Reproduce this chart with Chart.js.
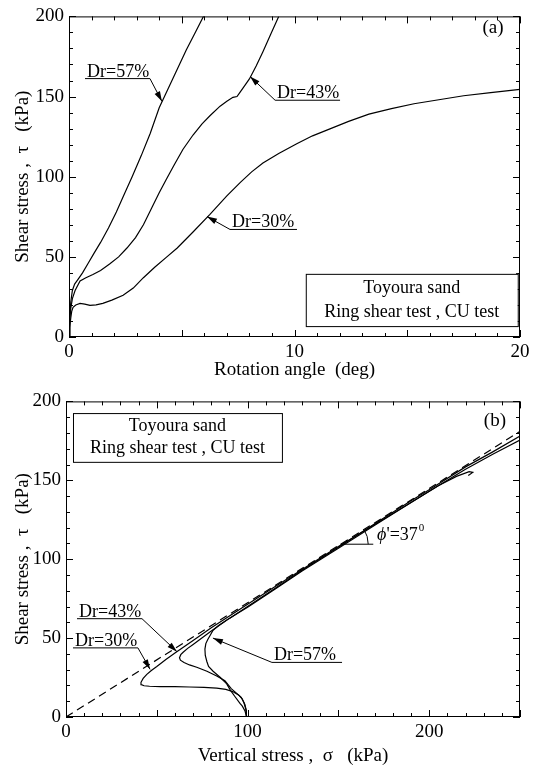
<!DOCTYPE html>
<html>
<head>
<meta charset="utf-8">
<script src="https://cdn.jsdelivr.net/npm/chart.js@4"></script>
<style>
  body { margin: 0; background: #fff; }
  .panel { position: absolute; left: 0; width: 542px; }
</style>
</head>
<body>
<div class="panel" style="top:0;height:385px;"><canvas id="chartA" width="542" height="385"></canvas></div>
<div class="panel" style="top:385px;height:386px;"><canvas id="chartB" width="542" height="386"></canvas></div>
<script>
const FONT = "'Liberation Serif', 'DejaVu Serif', serif";

// (a) shear stress vs rotation angle
const rotDr57 = [0, 0.03, 0.08, 0.15, 0.25, 0.4, 0.6, 0.85, 1.1, 1.4, 1.75, 2.1, 2.45, 2.8, 3.2, 3.6, 4.0, 4.4, 4.8, 5.2, 5.6, 6.0];
const tauDr57 = [0, 12, 22, 29, 33, 36, 40, 46, 52, 59, 68, 78, 89, 100, 113, 127, 143, 155, 167, 179, 190, 201];
const rotDr43 = [0, 0.03, 0.08, 0.15, 0.27, 0.49, 0.75, 1.06, 1.4, 1.8, 2.2, 2.57, 2.95, 3.3, 3.65, 4.0, 4.3, 4.65, 5.05, 5.5, 5.9, 6.25, 6.7, 7.0, 7.27, 7.45, 7.55, 7.8, 8.0, 8.3, 8.6, 8.95, 9.3];
const tauDr43 = [0, 10, 18, 24, 29, 35, 37, 39, 41.5, 45.5, 50, 55.5, 62, 70, 80, 90, 98, 107, 117, 126, 133, 138, 144, 147, 149.5, 150, 152, 157, 161, 169, 178, 189, 200];
const rotDr30 = [0, 0.03, 0.08, 0.12, 0.18, 0.3, 0.49, 0.7, 0.93, 1.2, 1.5, 1.9, 2.4, 2.85, 3.3, 3.8, 4.3, 4.8, 5.5, 6.25, 7.0, 7.6, 8.1, 8.6, 9.3, 10.1, 10.8, 11.6, 12.4, 13.3, 14.3, 15.3, 16.4, 17.5, 18.7, 20];
const tauDr30 = [0, 6, 12, 16, 18.5, 20, 21, 20.5, 19.7, 20, 21, 23, 26, 30.5, 37, 43.5, 49.5, 55.5, 65.5, 76.5, 88, 96.5, 103, 108.5, 114.5, 120.5, 125.5, 130, 134.5, 139, 142.5, 145.5, 148, 150.5, 152.5, 154.5];

// (b) stress paths: vertical stress vs shear stress
const sigDr30 = [99.5, 99.3, 98.5, 97, 95, 92, 88, 83, 76, 68, 60, 52, 46, 43, 41.5, 41.3, 42.5, 44.5, 47, 50, 55, 60, 70, 80, 90, 100, 115, 130, 150, 170, 190, 205, 215, 222, 224, 221.5];
const tauB30  = [0, 4, 8, 11.5, 14, 16, 17.5, 18.3, 18.8, 19, 19.2, 19.3, 19.5, 19.8, 20.5, 22, 24.5, 27, 29.5, 32, 36.5, 40.5, 48.5, 56.5, 64, 71.5, 82.5, 93.5, 108, 122, 136, 146.5, 152.5, 155.5, 155, 153];
const sigDr43 = [99.5, 99, 98, 96.5, 94, 91, 87.5, 83, 77.6, 72, 68, 65, 63, 62.5, 63.2, 64.5, 67, 70, 80, 90, 100, 115, 130, 150, 170, 190, 200, 220, 235, 250];
const tauB43  = [0, 5, 9, 12.5, 15, 18, 23, 26, 29, 31.5, 33, 34.5, 36, 37.5, 39.5, 41, 43.5, 46, 54.5, 62.5, 70, 81.5, 93, 107.5, 122.5, 137, 144, 158.5, 168, 178];
const sigDr57 = [99.5, 98.5, 97, 95.8, 93, 90.5, 88.5, 85, 81, 78.5, 77.6, 76.7, 76.5, 77, 78, 79.5, 81, 84, 88.5, 95, 100, 115, 130, 150, 170, 190, 200, 220, 235, 250];
const tauB57  = [0, 4, 7, 8.6, 13, 17, 21, 25, 29, 32, 35, 39, 43, 46.5, 49, 52, 55, 58, 61.5, 66, 69.5, 81, 92.5, 107, 121.5, 136, 143, 157, 166.5, 175.5];
const failSig = [0, 250];
const failTau = [0, 181];

function pts(xs, ys) { return xs.map((x, i) => ({ x: x, y: ys[i] })); }

function curve(label, xs, ys, dash) {
  return {
    label: label,
    data: pts(xs, ys),
    showLine: true,
    pointRadius: 0,
    borderColor: '#000',
    borderWidth: 1.2,
    borderDash: dash || [],
    fill: false,
    tension: 0
  };
}

function drawCallout(ctx, chart, a) {
  const sx = chart.scales.x, sy = chart.scales.y;
  const x1 = sx.getPixelForValue(a.u0), x2 = sx.getPixelForValue(a.u1), yu = sy.getPixelForValue(a.uy);
  const tx = sx.getPixelForValue(a.tip[0]), ty = sy.getPixelForValue(a.tip[1]);
  const fx = a.side === 'left' ? x1 : x2;
  ctx.beginPath();
  ctx.moveTo(x1, yu); ctx.lineTo(x2, yu);
  ctx.moveTo(fx, yu); ctx.lineTo(tx, ty);
  ctx.stroke();
  const ang = Math.atan2(ty - yu, tx - fx), L = 10, W = 3;
  ctx.beginPath();
  ctx.moveTo(tx, ty);
  ctx.lineTo(tx - L * Math.cos(ang) + W * Math.sin(ang), ty - L * Math.sin(ang) - W * Math.cos(ang));
  ctx.lineTo(tx - L * Math.cos(ang) - W * Math.sin(ang), ty - L * Math.sin(ang) + W * Math.cos(ang));
  ctx.closePath();
  ctx.fill();
  ctx.font = '18px ' + FONT;
  ctx.textAlign = 'left';
  ctx.textBaseline = 'alphabetic';
  ctx.fillText(a.text, x1 + 2, yu - 2);
}

function drawBox(ctx, chart, b) {
  const sx = chart.scales.x, sy = chart.scales.y;
  const l = sx.getPixelForValue(b.x0), r = sx.getPixelForValue(b.x1);
  const t = sy.getPixelForValue(b.y0), btm = sy.getPixelForValue(b.y1);
  ctx.fillStyle = '#fff';
  ctx.fillRect(l, t, r - l, btm - t);
  ctx.fillStyle = '#000';
  ctx.strokeRect(l + 0.5, t + 0.5, r - l, btm - t);
  ctx.font = '18px ' + FONT;
  ctx.textAlign = 'center';
  ctx.textBaseline = 'middle';
  const cx = (l + r) / 2, h = btm - t;
  ctx.fillText('Toyoura sand', cx, t + h * 0.27);
  ctx.fillText('Ring shear test , CU test', cx, t + h * 0.73);
}

// frame with inward ticks on all four sides
const framePlugin = {
  id: 'frame',
  afterDraw(chart, args, opts) {
    const ctx = chart.ctx, ca = chart.chartArea;
    const sx = chart.scales.x, sy = chart.scales.y;
    ctx.save();
    ctx.strokeStyle = '#000';
    ctx.fillStyle = '#000';
    ctx.lineWidth = 1;
    ctx.strokeRect(ca.left + 0.5, ca.top + 0.5, ca.right - ca.left - 1, ca.bottom - ca.top - 1);
    ctx.beginPath();
    for (let v = sx.min; v <= sx.max + 1e-9; v += opts.xMinor) {
      const p = Math.round(sx.getPixelForValue(v)) + 0.5;
      const len = Math.abs(v / opts.xMajor - Math.round(v / opts.xMajor)) < 1e-6 ? 7 : 4;
      ctx.moveTo(p, ca.bottom); ctx.lineTo(p, ca.bottom - len);
      ctx.moveTo(p, ca.top); ctx.lineTo(p, ca.top + len);
    }
    for (let v = sy.min; v <= sy.max + 1e-9; v += opts.yMinor) {
      const p = Math.round(sy.getPixelForValue(v)) + 0.5;
      const len = Math.abs(v / opts.yMajor - Math.round(v / opts.yMajor)) < 1e-6 ? 7 : 4;
      ctx.moveTo(ca.left, p); ctx.lineTo(ca.left + len, p);
      ctx.moveTo(ca.right, p); ctx.lineTo(ca.right - len, p);
    }
    ctx.stroke();
    (opts.callouts || []).forEach(a => drawCallout(ctx, chart, a));
    if (opts.box) drawBox(ctx, chart, opts.box);
    if (opts.tag) {
      ctx.font = '19px ' + FONT;
      ctx.textAlign = 'center';
      ctx.textBaseline = 'middle';
      ctx.fillText(opts.tag.text, sx.getPixelForValue(opts.tag.x), sy.getPixelForValue(opts.tag.y));
    }
    if (opts.angle) opts.angle(ctx, chart);
    ctx.restore();
  }
};

function axes(xMax, xStep, xLabelEvery, yLeft, xBottom, xTitle) {
  return {
    x: {
      type: 'linear', min: 0, max: xMax,
      grid: { display: false, drawTicks: false },
      border: { display: false },
      ticks: {
        stepSize: xStep, autoSkip: false, maxRotation: 0, padding: 4,
        color: '#000', font: { family: FONT, size: 19 },
        callback: v => (Math.abs(v % xLabelEvery) < 1e-6 ? String(v) : '')
      },
      title: { display: true, text: xTitle, color: '#000', font: { family: FONT, size: 19 }, padding: { top: 0, bottom: 4 } },
      afterFit: s => { s.height = xBottom; }
    },
    y: {
      type: 'linear', min: 0, max: 200,
      grid: { display: false, drawTicks: false },
      border: { display: false },
      ticks: {
        stepSize: 10, autoSkip: false, padding: 5,
        color: '#000', font: { family: FONT, size: 19 },
        callback: v => (v % 50 === 0 ? String(v) : '')
      },
      title: { display: true, text: 'Shear stress ,  τ   (kPa)', color: '#000', font: { family: FONT, size: 19 }, padding: { top: 12, bottom: 0 } },
      afterFit: s => { s.width = yLeft; }
    }
  };
}

Chart.defaults.animation = false;

new Chart(document.getElementById('chartA'), {
  type: 'scatter',
  data: {
    datasets: [
      curve('Dr=57%', rotDr57, tauDr57),
      curve('Dr=43%', rotDr43, tauDr43),
      curve('Dr=30%', rotDr30, tauDr30)
    ]
  },
  options: {
    responsive: false,
    layout: { padding: { top: 12, right: 22, left: 0, bottom: 0 } },
    scales: axes(20, 1, 10, 69, 48, 'Rotation angle  (deg)'),
    plugins: {
      legend: { display: false },
      tooltip: { enabled: false },
      frame: {
        xMinor: 1, xMajor: 5, yMinor: 10, yMajor: 50,
        callouts: [
          { text: 'Dr=57%', u0: 0.71, u1: 3.59, uy: 161.2, tip: [4.12, 147], side: 'right' },
          { text: 'Dr=43%', u0: 9.14, u1: 12.02, uy: 147.7, tip: [8.03, 162.5], side: 'left' },
          { text: 'Dr=30%', u0: 7.14, u1: 10.11, uy: 67.1, tip: [6.12, 75.1], side: 'left' }
        ],
        box: { x0: 10.5, x1: 19.9, y0: 39.4, y1: 6.8 },
        tag: { text: '(a)', x: 18.8, y: 193 }
      }
    }
  },
  plugins: [framePlugin]
});

new Chart(document.getElementById('chartB'), {
  type: 'scatter',
  data: {
    datasets: [
      curve('failure line', failSig, failTau, [8, 5]),
      curve('Dr=30%', sigDr30, tauB30),
      curve('Dr=43%', sigDr43, tauB43),
      curve('Dr=57%', sigDr57, tauB57)
    ]
  },
  options: {
    responsive: false,
    layout: { padding: { top: 8, right: 22, left: 0, bottom: 0 } },
    scales: axes(250, 10, 100, 66, 54, 'Vertical stress ,  σ   (kPa)'),
    plugins: {
      legend: { display: false },
      tooltip: { enabled: false },
      frame: {
        xMinor: 10, xMajor: 50, yMinor: 10, yMajor: 50,
        callouts: [
          { text: 'Dr=43%', u0: 6.06, u1: 41.85, uy: 62.3, tip: [61.1, 41.4], side: 'right' },
          { text: 'Dr=30%', u0: 3.85, u1: 39.6, uy: 43.8, tip: [46.3, 30.2], side: 'right' },
          { text: 'Dr=57%', u0: 113.4, u1: 152, uy: 34.6, tip: [80.9, 50], side: 'left' }
        ],
        box: { x0: 3.85, x1: 118.9, y0: 192.6, y1: 161.7 },
        tag: { text: '(b)', x: 236.2, y: 187.6 },
        angle: (ctx, chart) => {
          const sx = chart.scales.x, sy = chart.scales.y;
          const vx = sx.getPixelForValue(151), vy = sy.getPixelForValue(109.5);
          const ex = sx.getPixelForValue(169.2);
          const slope = (sy.getPixelForValue(0) - sy.getPixelForValue(181)) / (sx.getPixelForValue(250) - sx.getPixelForValue(0));
          ctx.beginPath();
          ctx.moveTo(vx, vy); ctx.lineTo(ex, vy);
          ctx.stroke();
          ctx.beginPath();
          ctx.arc(vx, vy, 28, -Math.atan(slope), 0);
          ctx.stroke();
          ctx.textAlign = 'left';
          ctx.textBaseline = 'middle';
          ctx.font = 'italic 18px ' + FONT;
          const tx = sx.getPixelForValue(171.3), ty = sy.getPixelForValue(115.4);
          ctx.fillText('ϕ', tx, ty);
          let w = ctx.measureText('ϕ').width;
          ctx.font = '18px ' + FONT;
          ctx.fillText("'=37", tx + w, ty);
          w += ctx.measureText("'=37").width;
          ctx.font = '11px ' + FONT;
          ctx.fillText('0', tx + w + 1, ty - 7);
        }
      }
    }
  },
  plugins: [framePlugin]
});
</script>
</body>
</html>
